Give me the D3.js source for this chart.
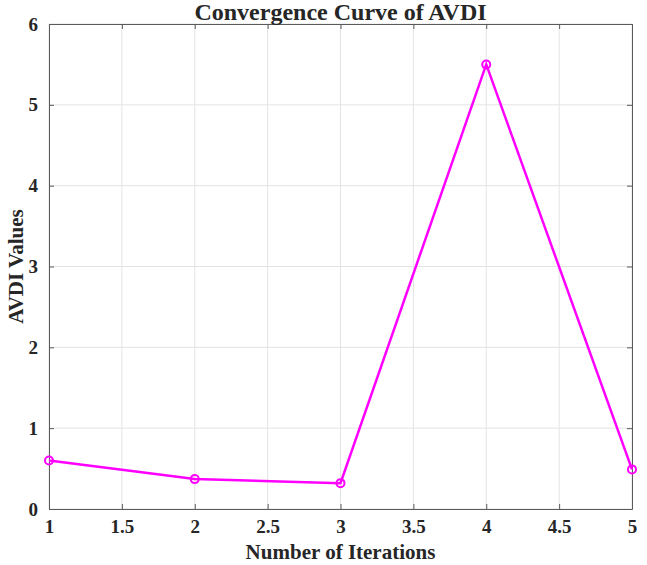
<!DOCTYPE html>
<html>
<head>
<meta charset="utf-8">
<script src="https://cdn.jsdelivr.net/npm/d3@7"></script>
<style>
  body { margin: 0; background: #fff; }
  text { font-family: "Liberation Serif", "Times New Roman", serif; font-weight: bold; fill: #262626; }
</style>
</head>
<body>
<div class="content"></div>
<script>
// Data
var iterations = [1, 2, 3, 4, 5];
var avdiValues = [0.60, 0.37, 0.32, 5.50, 0.49];
var xTicks = [1, 1.5, 2, 2.5, 3, 3.5, 4, 4.5, 5];
var yTicks = [0, 1, 2, 3, 4, 5, 6];

var totalW = 647, totalH = 565;
var margin = {top: 24, right: 15, bottom: 56, left: 49},
    width = totalW - margin.left - margin.right,
    height = totalH - margin.top - margin.bottom;

var svg = d3.select(".content").append("svg")
    .attr("width", totalW)
    .attr("height", totalH)
  .append("g")
    .attr("transform", "translate(" + margin.left + "," + margin.top + ")");

var x = d3.scaleLinear().domain([1, 5]).range([0, width]);
var y = d3.scaleLinear().domain([0, 6]).range([height, 0]);

// grid
svg.append("g")
  .selectAll("line")
  .data(xTicks)
  .enter().append("line")
    .attr("x1", function(d) { return x(d); })
    .attr("x2", function(d) { return x(d); })
    .attr("y1", 0).attr("y2", height)
    .attr("stroke", "#e3e3e3").attr("stroke-width", 1);
svg.append("g")
  .selectAll("line")
  .data(yTicks)
  .enter().append("line")
    .attr("y1", function(d) { return y(d); })
    .attr("y2", function(d) { return y(d); })
    .attr("x1", 0).attr("x2", width)
    .attr("stroke", "#e3e3e3").attr("stroke-width", 1);

// axes, ticks pointing inward, on all four sides
var tickLen = 5;
var fmt = d3.format("");
var xAxis = svg.append("g")
  .attr("transform", "translate(0," + height + ")")
  .call(d3.axisBottom(x).tickValues(xTicks).tickSizeInner(-tickLen).tickSizeOuter(0).tickPadding(9)
    .tickFormat(fmt));
var yAxis = svg.append("g")
  .call(d3.axisLeft(y).tickValues(yTicks).tickSizeInner(-tickLen).tickSizeOuter(0).tickPadding(9)
    .tickFormat(fmt));
var xTop = svg.append("g")
  .call(d3.axisTop(x).tickValues(xTicks).tickSizeInner(-tickLen).tickSizeOuter(0).tickFormat(""));
var yRight = svg.append("g")
  .attr("transform", "translate(" + width + ",0)")
  .call(d3.axisRight(y).tickValues(yTicks).tickSizeInner(-tickLen).tickSizeOuter(0).tickFormat(""));

[xAxis, yAxis, xTop, yRight].forEach(function(a) {
  a.selectAll("path, line").attr("stroke", "#5a5a5a").attr("stroke-width", 1);
  a.selectAll("text").style("font-size", "19px").attr("fill", "#262626");
});
xAxis.selectAll("text").attr("dy", "0.8em");
yAxis.selectAll("text").attr("dx", "-0.1em");

// line
var line = d3.line()
  .x(function(d, i) { return x(iterations[i]); })
  .y(function(d) { return y(d); });

svg.append("path")
  .datum(avdiValues)
  .attr("d", line)
  .attr("fill", "none")
  .attr("stroke", "#ff00ff")
  .attr("stroke-width", 2.5);

svg.selectAll(".dot")
  .data(avdiValues)
  .enter().append("circle")
    .attr("class", "dot")
    .attr("cx", function(d, i) { return x(iterations[i]); })
    .attr("cy", function(d) { return y(d); })
    .attr("r", 4)
    .attr("fill", "none")
    .attr("stroke", "#ff00ff")
    .attr("stroke-width", 2);

// titles
svg.append("text")
  .attr("x", width / 2).attr("y", -4)
  .attr("text-anchor", "middle")
  .style("font-size", "24px")
  .text("Convergence Curve of AVDI");

svg.append("text")
  .attr("x", width / 2).attr("y", height + 50)
  .attr("text-anchor", "middle")
  .style("font-size", "21px")
  .text("Number of Iterations");

svg.append("text")
  .attr("transform", "translate(" + (-26) + "," + (height / 2) + ") rotate(-90)")
  .attr("text-anchor", "middle")
  .style("font-size", "21px")
  .text("AVDI Values");
</script>
</body>
</html>
